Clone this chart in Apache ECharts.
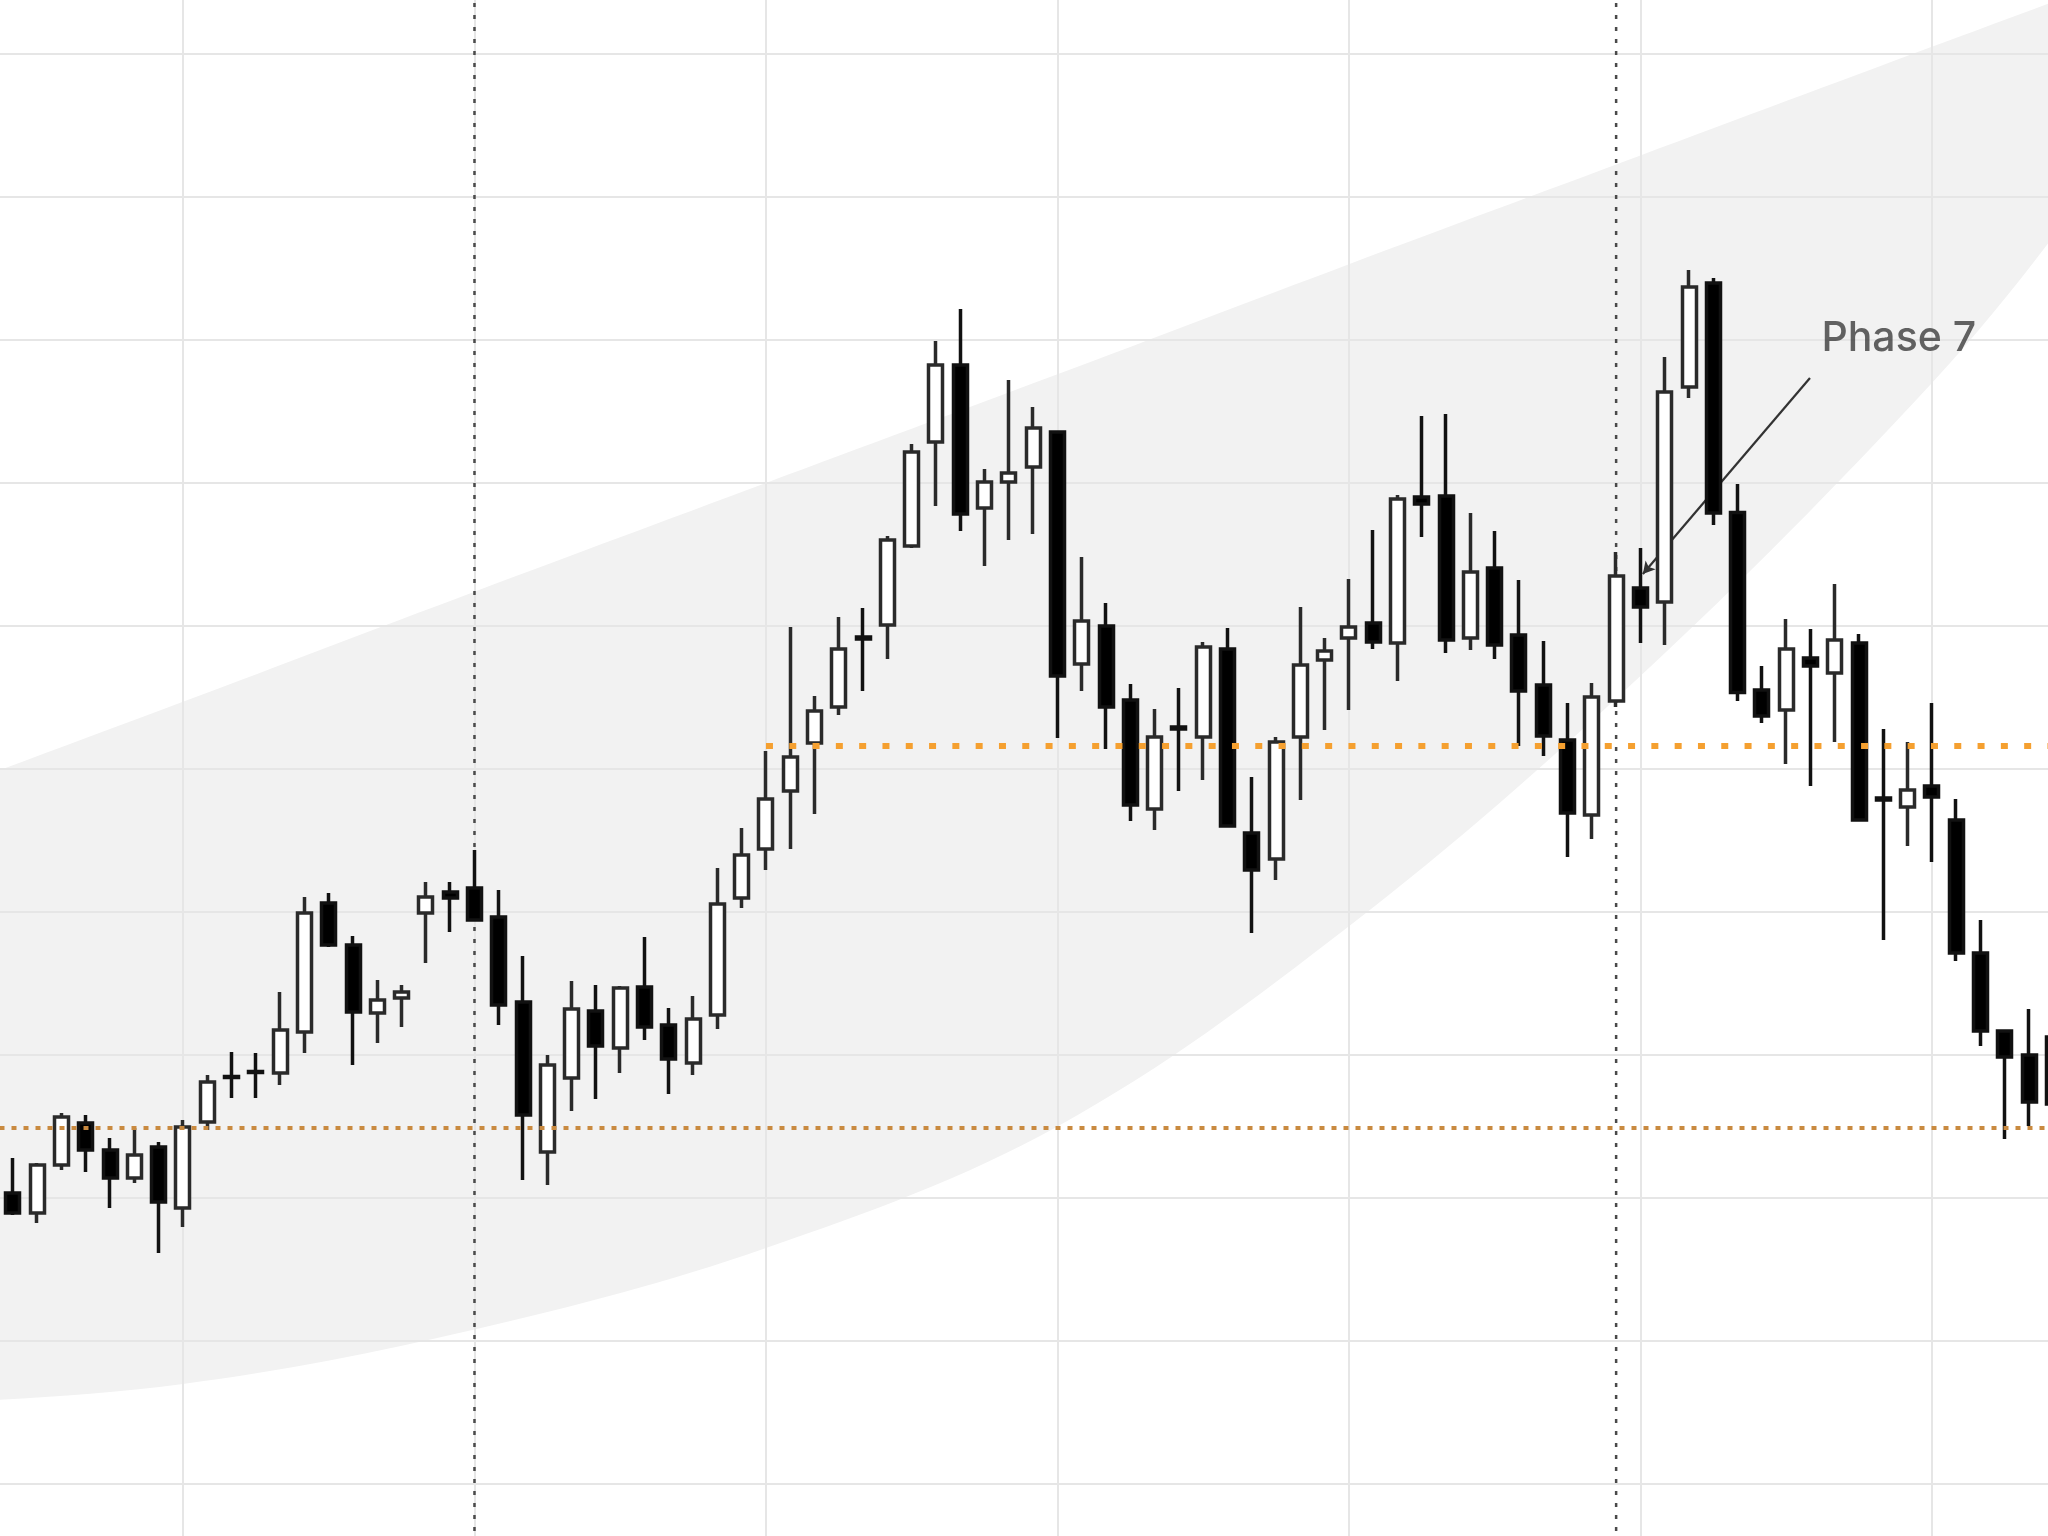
<!DOCTYPE html>
<html>
<head>
<meta charset="utf-8">
<script src="https://cdn.jsdelivr.net/npm/echarts@6.0.0/dist/echarts.min.js"></script>
<style>
html,body{margin:0;padding:0;background:#ffffff;}
#chart{width:2048px;height:1536px;}
</style>
</head>
<body>
<div id="chart"></div>
<script>
// ---- data (x in candle units; grid lines every 12 candles) ----
const FIRST_X = -7;
const opens  = [20.35,18.95,22.31,25.24,23.36,21.40,23.57,19.30,25.31,28.50,28.85,28.74,31.61,40.63,37.69,32.94,33.99,39.93,41.40,41.68,39.65,33.71,23.22,28.39,33.08,30.49,34.76,32.10,29.44,32.80,40.98,44.41,48.46,51.82,54.34,59.23,60.07,65.59,72.87,78.25,68.25,70.07,71.12,73.57,57.34,60.00,54.83,47.20,52.94,52.24,58.39,45.52,43.71,52.24,57.62,59.16,60.21,58.81,69.02,69.09,59.16,64.06,59.37,55.87,52.03,46.78,54.76,62.66,61.68,76.71,83.99,67.94,55.52,54.13,57.76,56.71,58.81,47.97,47.34,48.81,46.43,37.13,31.68,30.00,31.26];
const closes = [18.95,22.31,25.66,23.36,21.40,23.01,19.72,24.97,28.11,28.42,28.78,31.75,39.93,37.69,33.01,33.85,34.41,41.05,40.98,39.44,33.50,25.80,29.30,33.22,30.63,34.69,31.96,29.72,32.52,40.56,43.99,47.90,50.84,54.06,58.39,59.09,66.01,72.17,78.25,67.83,70.07,70.70,73.85,56.50,60.35,54.34,47.48,52.24,52.80,58.53,46.01,42.94,51.89,57.27,58.25,59.93,58.88,68.88,68.53,59.02,63.78,58.67,55.45,52.31,46.92,55.03,63.50,61.33,76.36,83.71,67.90,55.35,53.71,58.39,57.20,59.02,46.43,47.83,48.53,48.04,37.13,31.68,29.86,26.71,26.57];
const lows   = [18.81,18.25,21.96,21.82,19.30,21.05,16.15,17.97,24.76,26.99,26.99,27.90,30.14,37.55,29.30,30.84,31.96,36.43,38.60,39.37,32.10,21.26,20.91,26.08,26.92,28.74,31.05,27.27,28.60,31.82,40.28,42.94,44.41,46.85,53.78,55.45,57.69,65.45,68.39,66.64,64.20,66.01,66.43,52.17,55.45,51.40,46.36,45.73,48.46,49.23,45.94,38.53,42.24,47.83,52.73,54.13,58.39,56.15,66.22,58.11,58.32,57.69,51.61,50.91,43.85,45.10,54.34,58.81,58.67,75.94,67.06,54.76,53.22,50.35,48.81,51.89,46.36,38.04,44.62,43.50,36.57,30.63,24.13,25.03,26.15];
const highs  = [22.80,22.45,25.94,25.80,24.20,24.90,23.92,25.45,28.60,30.21,30.14,34.41,41.05,41.33,38.32,35.24,34.90,42.10,42.10,44.34,41.54,36.92,30.00,35.17,34.90,34.83,38.25,33.29,34.13,43.08,45.87,51.26,59.93,55.10,60.63,61.26,66.29,72.73,79.93,82.17,70.98,77.20,75.31,73.64,64.83,61.61,55.94,54.20,55.66,58.88,59.86,49.44,52.24,61.33,59.16,63.29,66.71,69.16,74.69,74.83,67.90,66.64,63.22,58.95,54.62,56.01,65.17,65.45,78.81,84.90,84.34,69.93,57.20,60.49,59.79,62.94,59.44,52.80,51.89,54.62,47.90,39.44,31.75,33.22,31.75];

// shaded channel (end points lie outside the visible area)
const bandX     = [-24, -12, 0, 12, 24, 36, 48, 60, 72, 78, 90];
const bandUpper = [39.5, 47.1, 54.7, 62.4, 70.0, 77.6, 85.3, 92.9, 100.5, 104.3, 112.0];
const bandLower = [4.8, 5.5, 7.0, 10.8, 16.5, 25.0, 39.0, 56.5, 77.0, 89.5, 118.0];

// reference levels
const levelUpper = {start: 24, end: 84, value: 51.61};
const levelLower = {start: -12, end: 84, value: 24.90};
const dividerX = [12, 59];

// annotation
const annotationText = 'Phase 7';
const annotationLabelPos = [67.45, 80.1];
const annotationFrom = [66.98, 77.34];
const annotationTo   = [60.1, 63.64];

// ---- build ----
const candleData = opens.map((o, i) => [FIRST_X + i, o, closes[i], lows[i], highs[i]]);
const bandData = bandX.map((x, i) => [x, bandLower[i], bandUpper[i]]);

const series = [];

series.push({
  type: 'custom',
  z: -1,
  silent: true,
  clip: false,
  data: bandData,
  encode: {x: 0, y: [1, 2]},
  renderItem: function (params, api) {
    if (params.dataIndex !== 0) return null;
    const up = [], lo = [];
    for (let i = 0; i < bandX.length; i++) {
      up.push(api.coord([bandX[i], bandUpper[i]]));
      lo.push(api.coord([bandX[i], bandLower[i]]));
    }
    return {
      type: 'group',
      children: [{
        type: 'polygon',
        shape: {points: up.concat(lo.slice().reverse()), smooth: 0.35},
        style: {fill: '#f2f2f2', stroke: null}
      }]
    };
  }
});

dividerX.forEach(x => {
  series.push({
    type: 'line', z: 1, silent: true, symbol: 'none',
    data: [[x, -10], [x, 110]],
    lineStyle: {color: '#4a4a4a', width: 2.5, type: [4, 8]}
  });
});

series.push({
  type: 'candlestick',
  z: 2,
  barWidth: 14.5,
  data: candleData,
  itemStyle: {
    color: '#ffffff',
    color0: '#000000',
    borderColor: '#2a2a2a',
    borderColor0: '#111111',
    borderWidth: 3.5
  },
  markLine: {
    z: 1,
    silent: true,
    symbol: ['none', 'arrow'],
    symbolSize: [10, 12],
    label: {show: false},
    lineStyle: {color: '#333333', width: 2.2, type: 'solid'},
    data: [[{coord: annotationFrom}, {coord: annotationTo}]]
  }
});

series.push({
  type: 'line', z: 3, silent: true, symbol: 'none',
  data: [[levelUpper.start, levelUpper.value], [levelUpper.end, levelUpper.value]],
  lineStyle: {color: '#f5a030', width: 6, type: [7, 16.3]}
});
series.push({
  type: 'line', z: 3, silent: true, symbol: 'none',
  data: [[levelLower.start, levelLower.value], [levelLower.end, levelLower.value]],
  lineStyle: {color: '#c98a40', width: 4, type: [5, 7]}
});

series.push({
  type: 'scatter', z: 3, silent: true,
  symbolSize: 0,
  data: [annotationLabelPos],
  label: {
    show: true, position: 'right', distance: 0,
    formatter: annotationText,
    color: '#3c3c3c', fontSize: 41, fontFamily: 'Inter', fontWeight: 500
  }
});

const chart = echarts.init(document.getElementById('chart'), null, {renderer: 'canvas'});
chart.setOption({
  animation: false,
  backgroundColor: '#ffffff',
  grid: {left: -108.5, right: -175.4, top: -89, bottom: -91, containLabel: false, outerBoundsMode: 'none'},
  xAxis: {
    type: 'value', min: -12, max: 84, interval: 12,
    axisLine: {show: false}, axisTick: {show: false}, axisLabel: {show: false},
    splitLine: {show: true, lineStyle: {color: '#e6e6e6', width: 2}}
  },
  yAxis: {
    type: 'value', min: -10, max: 110, interval: 10,
    axisLine: {show: false}, axisTick: {show: false}, axisLabel: {show: false},
    splitLine: {show: true, lineStyle: {color: '#e6e6e6', width: 2}}
  },
  series: series
});
</script>
</body>
</html>
